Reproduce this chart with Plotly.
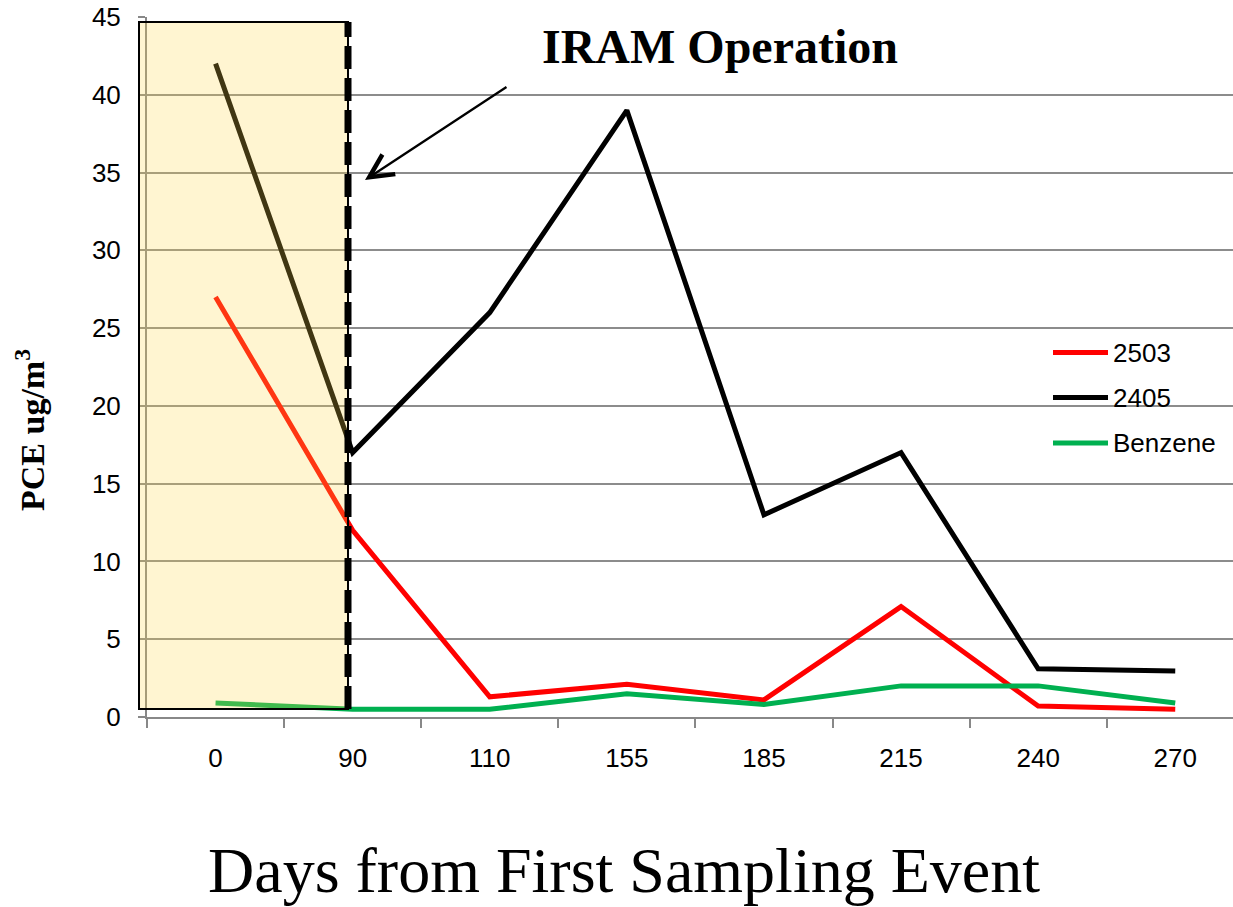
import plotly.graph_objects as go

# ---------------- data ----------------
days = ["0", "90", "110", "155", "185", "215", "240", "270"]
s2503 = [27, 12, 1.3, 2.1, 1.1, 7.1, 0.7, 0.5]
s2405 = [42, 17, 26, 39, 13, 17, 3.1, 2.95]
benzene = [0.9, 0.5, 0.5, 1.5, 0.8, 2.0, 2.0, 0.9]
series_names = ["2503", "2405", "Benzene"]
series_colors = ["#FF0000", "#000000", "#00B050"]
y_ticks = [0, 5, 10, 15, 20, 25, 30, 35, 40, 45]

# ---------------- layout constants ----------------
OFF = 0  # page body margin removed via post_script
W, H = 1233 - OFF, 907 - OFF
# plot area in window pixels: x 147..1233, y 17..717
PL, PR, PT, PB = 147, 1233, 17, 717
ML, MR, MT, MB = PL - OFF, 0, PT - OFF, H - (PB - OFF)
PW = PR - PL
PH = PB - PT
SANS = "Liberation Sans, Arial, sans-serif"
SERIF = "Liberation Serif, Times New Roman, serif"


def px_x(px):
    return (px - PL) / PW


def px_y(py):
    return (PB - py) / PH


fig = go.Figure()
for name, vals, col in zip(series_names, [s2503, s2405, benzene], series_colors):
    fig.add_trace(go.Scatter(x=days, y=vals, mode="lines", name=name,
                             line=dict(color=col, width=5),
                             showlegend=False))

shapes = []
# shaded "before IRAM" region
shapes.append(dict(type="rect", xref="paper", yref="paper",
                   x0=px_x(139), x1=px_x(348), y0=px_y(709), y1=px_y(22),
                   fillcolor="rgba(255,215,70,0.25)",
                   line=dict(color="black", width=2), layer="above"))
# dashed divider
shapes.append(dict(type="line", xref="paper", yref="paper",
                   x0=px_x(348), x1=px_x(348), y0=px_y(709), y1=px_y(22),
                   line=dict(color="black", width=7, dash="23px,9px"),
                   layer="above"))
shapes.append(dict(type="line", xref="paper", yref="paper",
                   x0=px_x(348), x1=px_x(348), y0=px_y(709), y1=px_y(22),
                   line=dict(color="black", width=2), layer="above"))

annotations = []
# custom legend
leg_y = [352.5, 397.5, 443]
for name, col, ly in zip(series_names, series_colors, leg_y):
    shapes.append(dict(type="line", xref="paper", yref="paper",
                       x0=px_x(1053), x1=px_x(1108), y0=px_y(ly), y1=px_y(ly),
                       line=dict(color=col, width=5), layer="above"))
    annotations.append(dict(xref="paper", yref="paper", x=px_x(1111), y=px_y(ly),
                            text=name, showarrow=False, xanchor="left",
                            yanchor="middle",
                            font=dict(family=SANS, size=26, color="black")))

# title
annotations.append(dict(xref="paper", yref="paper", x=px_x(720), y=px_y(47),
                        text="<b>IRAM Operation</b>", showarrow=False,
                        xanchor="center", yanchor="middle",
                        font=dict(family=SERIF, size=48, color="black")))
# arrow
annotations.append(dict(xref="paper", yref="paper", x=px_x(365), y=px_y(180),
                        ax=508 - 365, ay=86 - 180, text="", showarrow=True,
                        arrowhead=5, arrowsize=2, arrowwidth=2.3,
                        arrowcolor="black"))
# y title
annotations.append(dict(xref="paper", yref="paper", x=px_x(30), y=px_y(430),
                        text="<b>PCE ug/m<sup>3</sup></b>", showarrow=False,
                        textangle=-90, xanchor="center", yanchor="middle",
                        font=dict(family=SERIF, size=34, color="black")))
# x title
annotations.append(dict(xref="paper", yref="paper", x=px_x(624), y=px_y(870),
                        text="Days from First Sampling Event", showarrow=False,
                        xanchor="center", yanchor="middle",
                        font=dict(family=SERIF, size=64, color="black")))

fig.update_layout(
    width=W, height=H,
    margin=dict(l=ML, r=MR, t=MT, b=MB, autoexpand=False),
    paper_bgcolor="white", plot_bgcolor="white",
    shapes=shapes, annotations=annotations,
    showlegend=False,
    xaxis=dict(type="category", categoryorder="array", categoryarray=days,
               range=[-0.5, -0.5 + PW / 137.1],
               tickson="boundaries", ticks="outside", ticklen=9,
               tickcolor="#888888", tickwidth=2,
               showline=True, linecolor="#888888", linewidth=2,
               showgrid=False, zeroline=False, automargin=False,
               ticklabelstandoff=17,
               tickfont=dict(family=SANS, size=26, color="black")),
    yaxis=dict(range=[0, 45], tickvals=y_ticks,
               ticks="outside", ticklen=7, tickcolor="#888888", tickwidth=2,
               showline=True, linecolor="#888888", linewidth=2,
               showgrid=True, gridcolor="#8c8c8c", gridwidth=1.5,
               zeroline=False, ticklabelstandoff=12, automargin=False,
               ticklabeloverflow="allow",
               tickfont=dict(family=SANS, size=26, color="black")),
)

fig.write_html("out.html",
               config={"displayModeBar": False},
               post_script="document.body.style.margin='0';"
                           "document.body.style.overflow='hidden';")
